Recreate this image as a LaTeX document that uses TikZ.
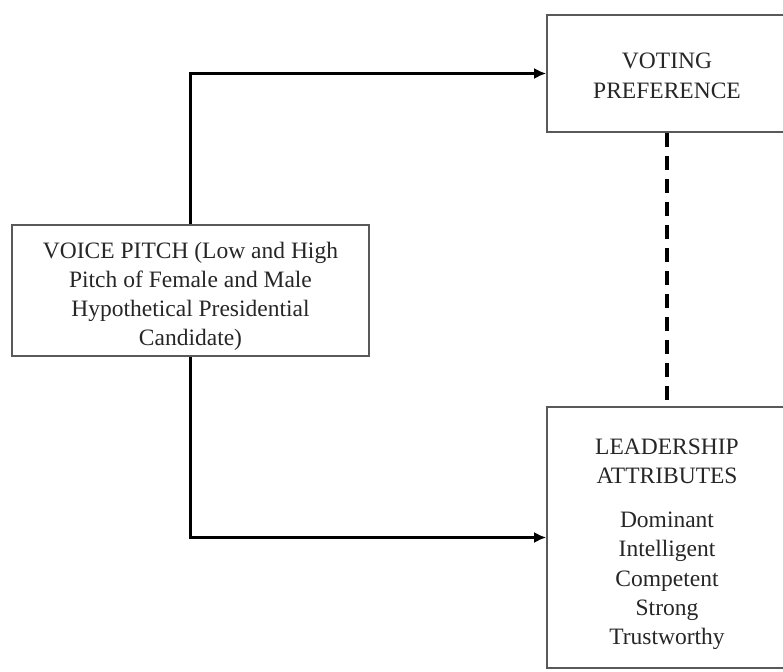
\documentclass[tikz,border=0pt]{standalone}
\usepackage{fontspec}
\setmainfont{Liberation Serif}
\usetikzlibrary{positioning,calc}
\usetikzlibrary{arrows.meta}

\begin{document}
\begin{tikzpicture}[x=1pt,y=1pt,every node/.style={rectangle,draw=black!65,line width=1.6pt,align=center,text=black!85,font=\fontsize{23.5}{29.3}\selectfont},link/.style={draw,line width=3.4pt,-{Latex[length=12pt,width=11pt]}}]
	\useasboundingbox (0,0) rectangle (783,671);
	\node[minimum width=357pt,minimum height=131pt] (pitch) at (190.5,380.5) {\rule{0pt}{28pt}VOICE PITCH (Low and High\\Pitch of Female and Male\\Hypothetical Presidential\\Candidate)};
	\node[minimum width=240pt,minimum height=117pt] (vote) at (667,597.5) {\rule{0pt}{20pt}VOTING\\PREFERENCE};
	\node[minimum width=240pt,minimum height=261pt] (lead) at (667,133.5) {\rule{0pt}{29pt}LEADERSHIP\\ATTRIBUTES\\[14.5pt]Dominant\\Intelligent\\Competent\\Strong\\Trustworthy};
	% connectors
	\draw[link] (pitch.north) |- (vote.west);
	\draw[link] (pitch.south) |- (lead.west);
	\draw[line width=3.5pt,dash pattern=on 14pt off 9pt] (vote.south) -- (lead.north);
\end{tikzpicture}
\end{document}
